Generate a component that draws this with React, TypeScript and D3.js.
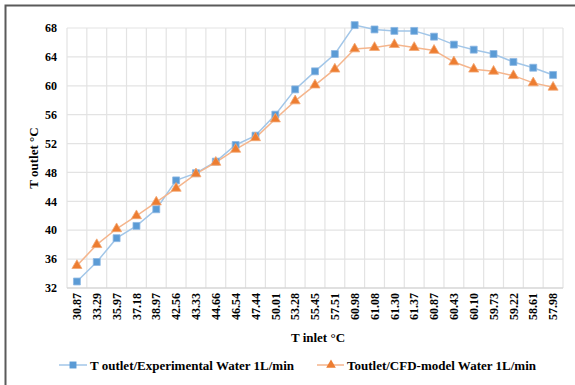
import React from "react";
import * as d3 from "d3";

// Inlet temperatures (°C) used as category labels
const inletLabels = [
  "30.87", "33.29", "35.97", "37.18", "38.97", "42.56", "43.33", "44.66", "46.54",
  "47.44", "50.01", "53.28", "55.45", "57.51", "60.98", "61.08", "61.30", "61.37",
  "60.87", "60.43", "60.10", "59.73", "59.22", "58.61", "57.98",
];

// Outlet temperature, experimental (°C)
const experimental = [
  32.9, 35.6, 38.9, 40.6, 42.9, 46.9, 47.9, 49.5, 51.8, 53.1, 56.0, 59.5, 62.0,
  64.4, 68.4, 67.8, 67.6, 67.6, 66.8, 65.7, 65.0, 64.4, 63.3, 62.5, 61.5,
];

// Outlet temperature, CFD model (°C)
const cfdModel = [
  35.1, 38.0, 40.2, 42.0, 43.9, 45.8, 47.8, 49.4, 51.2, 52.8, 55.4, 57.9, 60.1,
  62.3, 65.1, 65.3, 65.7, 65.3, 64.9, 63.3, 62.3, 62.0, 61.4, 60.4, 59.8,
];

const yTicks = [32, 36, 40, 44, 48, 52, 56, 60, 64, 68];

const seriesNames = [
  "T outlet/Experimental Water 1L/min",
  "Toutlet/CFD-model Water 1L/min",
];

const W = 575;
const H = 385;
const plot = { left: 67, right: 563, top: 28, bottom: 288 };
const FONT = "'Liberation Serif', 'Times New Roman', serif";

const BLUE = "#5B9BD5";
const BLUE_LINE = "#A2C6E8";
const ORANGE = "#ED7D31";
const ORANGE_LINE = "#F5B58C";
const GRID = "#E3E3E3";

export default function App() {
  const idx = inletLabels.map((_, i) => String(i));
  const x = d3.scaleBand<string>().domain(idx).range([plot.left, plot.right]);
  const y = d3.scaleLinear().domain([32, 68]).range([plot.bottom, plot.top]);
  const cx = (i: number) => (x(String(i)) as number) + x.bandwidth() / 2;

  const line = d3
    .line<number>()
    .x((_, i) => cx(i))
    .y((d) => y(d));

  const square = d3.symbol().type(d3.symbolSquare).size(48)();
  const triangle = d3.symbol().type(d3.symbolTriangle).size(44)();
  const triangleLegend = d3.symbol().type(d3.symbolTriangle).size(40)();

  const bounds = idx.map((k) => x(k) as number).concat([plot.right]);
  const textStyle = { fontFamily: FONT };

  return (
    <svg
      width={W}
      height={H}
      style={{ position: "absolute", left: 0, top: 0, background: "#fff", fontFamily: FONT }}
    >
      {/* chart frame: top and left edges */}
      <path d={`M5.5,${H}V5.5H${W}`} fill="none" stroke="#5a5a5a" strokeWidth={2} />

      {/* horizontal gridlines */}
      {yTicks.map((t) => (
        <line key={"h" + t} x1={plot.left} x2={plot.right} y1={y(t)} y2={y(t)} stroke={GRID} strokeWidth={1.2} />
      ))}
      {/* vertical gridlines between categories */}
      {bounds.map((b, i) => (
        <line key={"v" + i} x1={b} x2={b} y1={plot.top} y2={plot.bottom} stroke={GRID} strokeWidth={1.2} />
      ))}
      <line x1={plot.left} x2={plot.right} y1={plot.bottom} y2={plot.bottom} stroke="#D0D0D0" strokeWidth={1.2} />

      {/* y tick labels */}
      {yTicks.map((t) => (
        <text key={"yt" + t} x={57} y={y(t)} dy="0.35em" textAnchor="end" fontSize={12} fontWeight="bold" fill="#000" style={textStyle}>
          {t}
        </text>
      ))}

      {/* x tick labels */}
      {inletLabels.map((lab, i) => (
        <text
          key={"xt" + i}
          transform={`translate(${cx(i)},${plot.bottom + 5}) rotate(-90)`}
          dy="0.35em"
          textAnchor="end"
          fontSize={12}
          fontWeight="bold"
          fill="#000"
          style={textStyle}
        >
          {lab}
        </text>
      ))}

      {/* axis titles */}
      <text
        transform={`translate(33,${(plot.top + plot.bottom) / 2}) rotate(-90)`}
        textAnchor="middle"
        dy="0.35em"
        fontSize={13}
        fontWeight="bold"
        fill="#000"
        style={textStyle}
      >
        T outlet °C
      </text>
      <text x={318} y={337} textAnchor="middle" dy="0.35em" fontSize={13} fontWeight="bold" fill="#000" style={textStyle}>
        T inlet °C
      </text>

      {/* series lines */}
      <path d={line(experimental) as string} fill="none" stroke={BLUE_LINE} strokeWidth={1.5} />
      <path d={line(cfdModel) as string} fill="none" stroke={ORANGE_LINE} strokeWidth={1.5} />

      {/* markers */}
      {experimental.map((v, i) => (
        <path key={"bm" + i} d={square as string} transform={`translate(${cx(i)},${y(v)})`} fill={BLUE} stroke="#8DB8E3" strokeWidth={0.8} />
      ))}
      {cfdModel.map((v, i) => (
        <path key={"om" + i} d={triangle as string} transform={`translate(${cx(i)},${y(v)})`} fill={ORANGE} stroke="#F2A774" strokeWidth={0.8} />
      ))}

      {/* legend */}
      <g>
        <line x1={59} x2={87} y1={365} y2={365} stroke={BLUE_LINE} strokeWidth={1.5} />
        <path d={square as string} transform="translate(73,365)" fill={BLUE} />
        <text x={90} y={365} dy="0.35em" fontSize={13} fontWeight="bold" fill="#000" style={textStyle}>
          {seriesNames[0]}
        </text>
        <line x1={317} x2={344} y1={365} y2={365} stroke={ORANGE_LINE} strokeWidth={1.5} />
        <path d={triangleLegend as string} transform="translate(331,365)" fill={ORANGE} />
        <text x={347} y={365} dy="0.35em" fontSize={13} fontWeight="bold" fill="#000" style={textStyle}>
          {seriesNames[1]}
        </text>
      </g>
    </svg>
  );
}
